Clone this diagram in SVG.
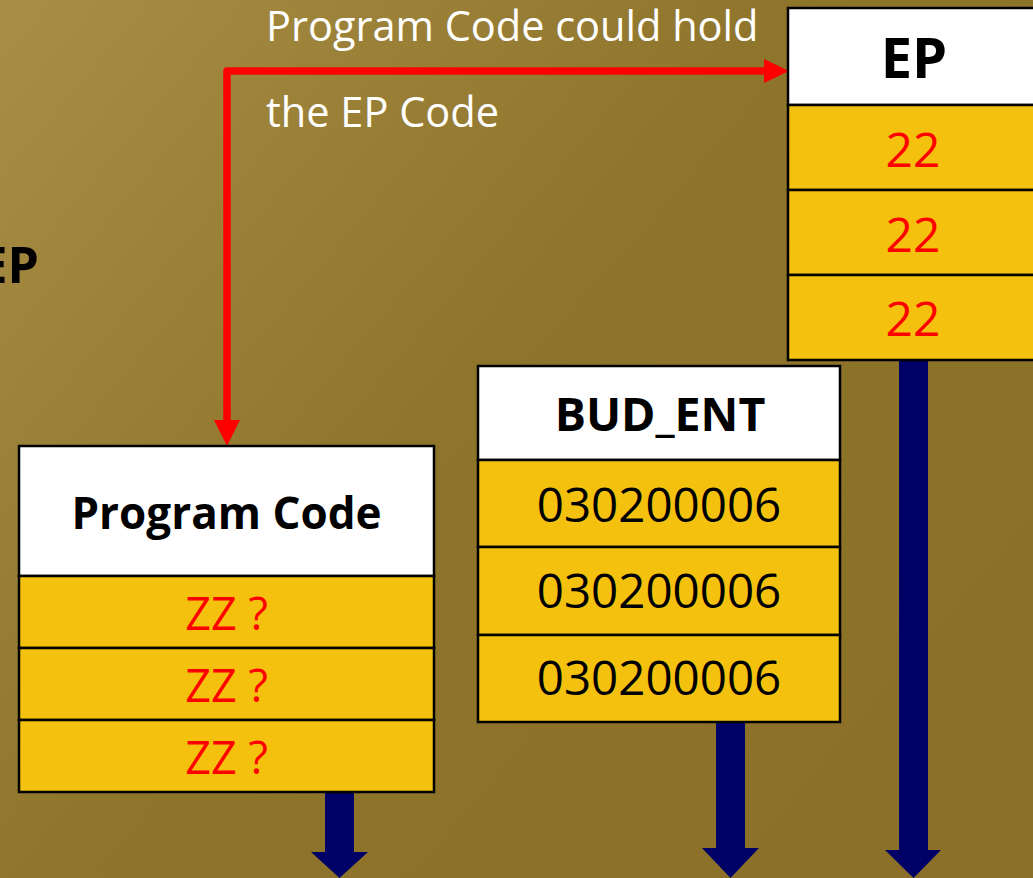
<svg xmlns="http://www.w3.org/2000/svg" width="1033" height="878" viewBox="0 0 1033 878">
<defs>
<linearGradient id="bg" x1="0" y1="0" x2="1033" y2="878" gradientUnits="userSpaceOnUse">
<stop offset="0" stop-color="#a88f45"/>
<stop offset="0.45" stop-color="#8f742b"/>
<stop offset="1" stop-color="#8b6f28"/>
</linearGradient>
<style>
.hdr{fill:#ffffff;stroke:#000;stroke-width:2.5}
.row{fill:#f4c20e;stroke:#000;stroke-width:2.5}
.ht{font-family:"Open Sans","Liberation Sans",sans-serif;font-weight:bold;fill:#000;text-anchor:middle}
.vt{font-family:"Open Sans","Liberation Sans",sans-serif;text-anchor:middle;font-size:45px}
.red{fill:#ff0000}
.blk{fill:#000}
.note{font-family:"Open Sans","Liberation Sans",sans-serif;fill:#ffffff;font-size:41.5px}
.navy{fill:#000066}
</style>
</defs>
<rect x="0" y="0" width="1033" height="878" fill="url(#bg)"/>
<text x="39" y="283" class="ht" style="text-anchor:end;font-size:50px">EP</text>
<g id="note">
<text x="266" y="41" class="note">Program Code could hold</text>
<text x="266" y="127" class="note">the EP Code</text>
</g>
<g id="connectors">
<path d="M227,420 L227,71 L764,71" fill="none" stroke="#ff0000" stroke-width="7.5" stroke-linejoin="round"/>
<path d="M764,59 L789,71 L764,83 Z" fill="#ff0000"/>
<path d="M214,420 L227,446 L240,420 Z" fill="#ff0000"/>
<path class="navy" d="M325,792 L354,792 L354,852 L368,852 L339.5,878 L311,852 L325,852 Z"/>
<path class="navy" d="M716,722 L745,722 L745,848 L759,848 L730.5,878 L702,848 L716,848 Z"/>
<path class="navy" d="M899,360 L928,360 L928,850 L941,850 L913.5,878 L885,850 L899,850 Z"/>
</g>
<g id="program-code">
<rect class="hdr" x="19" y="446" width="415" height="130"/>
<rect class="row" x="19" y="576" width="415" height="72"/>
<rect class="row" x="19" y="648" width="415" height="72"/>
<rect class="row" x="19" y="720" width="415" height="72"/>
<text class="ht" x="226.5" y="529" style="font-size:44px">Program Code</text>
<text class="vt red" x="226.5" y="630">ZZ ?</text>
<text class="vt red" x="226.5" y="702">ZZ ?</text>
<text class="vt red" x="226.5" y="774">ZZ ?</text>
</g>
<g id="bud-ent">
<rect class="hdr" x="478" y="366" width="362" height="94"/>
<rect class="row" x="478" y="460" width="362" height="87"/>
<rect class="row" x="478" y="547" width="362" height="88"/>
<rect class="row" x="478" y="635" width="362" height="87"/>
<text class="ht" x="660" y="431" style="font-size:46.5px">BUD_ENT</text>
<text class="vt blk" x="659" y="522" style="font-size:47.5px">030200006</text>
<text class="vt blk" x="659" y="608" style="font-size:47.5px">030200006</text>
<text class="vt blk" x="659" y="695" style="font-size:47.5px">030200006</text>
</g>
<g id="ep">
<rect class="hdr" x="788" y="8" width="252" height="97"/>
<rect class="row" x="788" y="105" width="252" height="85"/>
<rect class="row" x="788" y="190" width="252" height="85"/>
<rect class="row" x="788" y="275" width="252" height="85"/>
<text class="ht" x="914" y="78" style="font-size:56px">EP</text>
<text class="vt red" x="913" y="167" style="font-size:48px">22</text>
<text class="vt red" x="913" y="252" style="font-size:48px">22</text>
<text class="vt red" x="913" y="336" style="font-size:48px">22</text>
</g>
</svg>
